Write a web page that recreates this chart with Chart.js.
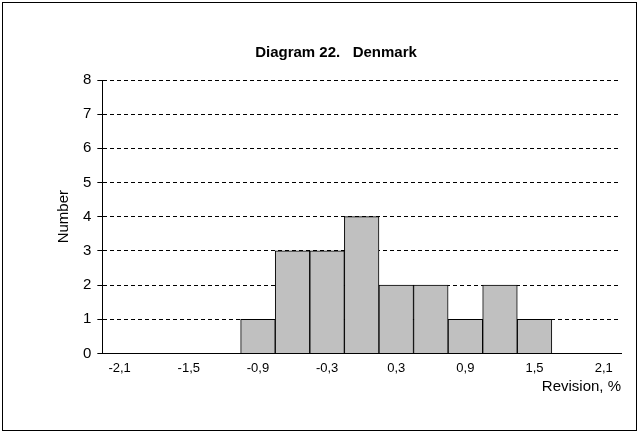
<!DOCTYPE html>
<html>
<head>
<meta charset="UTF-8">
<script src="https://cdn.jsdelivr.net/npm/chart.js"></script>
<style>
  body { margin: 0; background: #fff; }
  #box { position: absolute; left: 2px; top: 2px; width: 633px; height: 427px; border: 1px solid #000; }
</style>
</head>
<body>
<div id="box"><canvas id="c" width="633" height="427"></canvas></div>
<script>
// bin centres (revision, %) and counts
const bins = ['-2,1','-1,8','-1,5','-1,2','-0,9','-0,6','-0,3','0','0,3','0,6','0,9','1,2','1,5','1,8','2,1'];
const counts = [0, 0, 0, 0, 1, 3, 3, 4, 2, 2, 1, 2, 1, 0, 0];
const yTicks = [0, 1, 2, 3, 4, 5, 6, 7, 8];

const font = { family: 'Liberation Sans, Arial', size: 15 };

// solid y axis line (grid dash also dashes the border)
const solidAxis = {
  id: 'solidAxis',
  afterDraw(chart) {
    const a = chart.chartArea, c = chart.ctx;
    c.save();
    c.strokeStyle = '#000';
    c.lineWidth = 1;
    c.beginPath();
    c.moveTo(Math.round(a.left) + 0.5, a.top);
    c.lineTo(Math.round(a.left) + 0.5, a.bottom);
    c.stroke();
    c.restore();
  }
};

new Chart(document.getElementById('c'), {
  type: 'bar',
  data: {
    labels: bins,
    datasets: [{
      data: counts,
      backgroundColor: '#c0c0c0',
      borderColor: '#000',
      borderWidth: 1,
      barPercentage: 1,
      categoryPercentage: 1
    }]
  },
  options: {
    responsive: false,
    animation: false,
    layout: { padding: { top: 27, right: 15, left: 48, bottom: 30 } },
    plugins: {
      legend: { display: false },
      tooltip: { enabled: false },
      title: {
        display: true,
        text: 'Diagram 22.   Denmark',
        color: '#000',
        font: { family: 'Liberation Sans, Arial', size: 15, weight: 'bold' },
        padding: { top: 14, bottom: 18 }
      }
    },
    scales: {
      x: {
        grid: { display: false, tickLength: 5 },
        border: { color: '#000' },
        ticks: {
          color: '#000', font: { family: 'Liberation Sans, Arial', size: 13 }, autoSkip: false, maxRotation: 0, padding: 2,
          callback: (v, i) => (i % 2 === 0 ? bins[i] : '')
        },
        title: { display: true, text: 'Revision, %', align: 'end', color: '#000', font: font, padding: { top: 0 } }
      },
      y: {
        min: 0, max: 8,
        afterBuildTicks: a => { a.ticks = yTicks.map(v => ({ value: v })); },
        grid: { color: '#000', lineWidth: 1, tickLength: 5 },
        border: { color: '#000', dash: [4, 3] },
        ticks: { color: '#000', font: font, padding: 6 },
        title: { display: true, text: 'Number', color: '#000', font: font, padding: { bottom: 4 } }
      }
    }
  },
  plugins: [solidAxis]
});
</script>
</body>
</html>
